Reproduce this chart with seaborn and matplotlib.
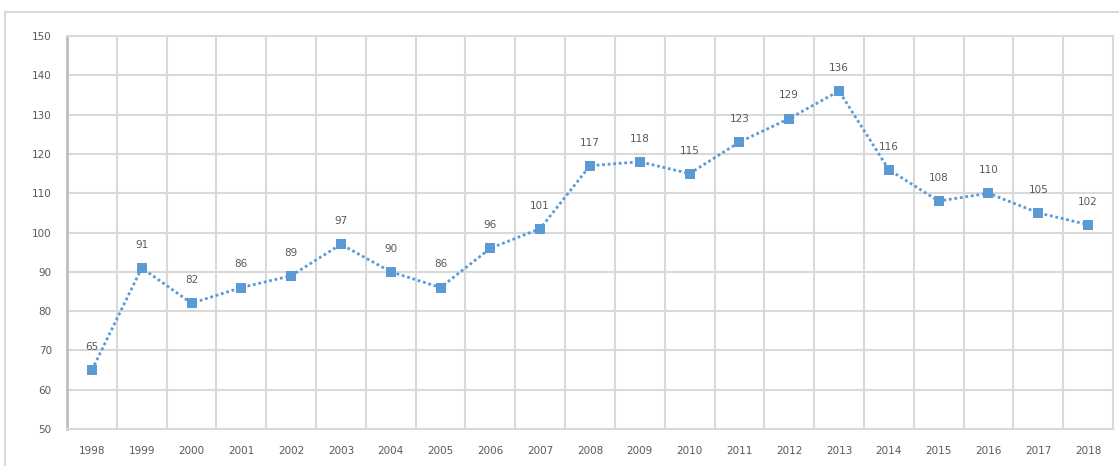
"""Dotted line chart with square markers and value labels, 1998-2018."""

import matplotlib
matplotlib.use("Agg")
import matplotlib.pyplot as plt
import numpy as np
import pandas as pd
import seaborn as sns
from matplotlib.patches import Rectangle


YEARS = [str(y) for y in range(1998, 2019)]
VALUES = [65, 91, 82, 86, 89, 97, 90, 86, 96, 101, 117,
          118, 115, 123, 129, 136, 116, 108, 110, 105, 102]
Y_TICKS = [50, 60, 70, 80, 90, 100, 110, 120, 130, 140, 150]

LINE_COLOR = "#5b9bd5"
GRID_COLOR = "#d9d9d9"
TEXT_COLOR = "#595959"


def main() -> None:
    sns.set_theme(style="white")
    plt.rcParams["font.family"] = ["DejaVu Sans"]

    df = pd.DataFrame({"pos": np.arange(len(YEARS)), "value": VALUES})

    fig = plt.figure(figsize=(11.19, 4.66), dpi=100)
    ax = fig.add_axes([0.0599, 0.0794, 0.9347, 0.8433])

    sns.lineplot(
        data=df, x="pos", y="value", ax=ax,
        color=LINE_COLOR, linewidth=2, linestyle=(0, (1, 1)),
        marker="s", markersize=6.5, markeredgewidth=0,
    )

    for x, v in zip(df["pos"], df["value"]):
        ax.annotate(str(v), (x, v), xytext=(0, 13), textcoords="offset points",
                    ha="center", va="bottom", fontsize=7.5, color=TEXT_COLOR)

    ax.set_xlim(-0.5, len(YEARS) - 0.5)
    ax.set_ylim(Y_TICKS[0], Y_TICKS[-1])
    ax.set_yticks(Y_TICKS)
    ax.set_yticklabels([str(t) for t in Y_TICKS], fontsize=7.5, color=TEXT_COLOR)
    ax.set_xticks(df["pos"])
    ax.set_xticklabels(YEARS, fontsize=7.5, color=TEXT_COLOR)
    ax.set_xticks(np.arange(len(YEARS) - 1) + 0.5, minor=True)
    ax.tick_params(axis="both", which="both", length=0)
    ax.tick_params(axis="y", pad=11)
    ax.tick_params(axis="x", pad=12)

    ax.grid(True, axis="y", which="major", color=GRID_COLOR, linewidth=1.5)
    ax.grid(True, axis="x", which="minor", color=GRID_COLOR, linewidth=1.5)
    ax.set_axisbelow(True)
    ax.set_xlabel("")
    ax.set_ylabel("")

    for side in ["top", "right", "bottom"]:
        ax.spines[side].set_color(GRID_COLOR)
        ax.spines[side].set_linewidth(1.5)
    ax.spines["left"].set_color("#bfbfbf")
    ax.spines["left"].set_linewidth(2)

    # outer chart border
    fig.patches.append(Rectangle((5 / 1119, -0.05), 1.1, 1 - 12 / 466 + 0.05,
                                 transform=fig.transFigure, fill=False,
                                 edgecolor=GRID_COLOR, linewidth=1.5))

    fig.savefig("out.png", dpi=100)
    plt.close(fig)


if __name__ == "__main__":
    main()
